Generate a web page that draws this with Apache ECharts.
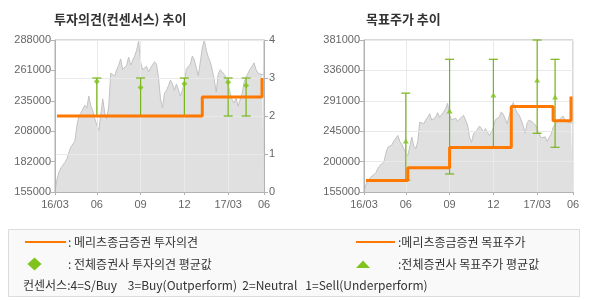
<!DOCTYPE html>
<html><head><meta charset="utf-8">
<script src="https://cdn.jsdelivr.net/npm/echarts@6/dist/echarts.min.js"></script>
<style>html,body{margin:0;padding:0;background:#fff}#c{width:590px;height:300px}</style>
</head><body><div id="c"></div>
<script>
// ---- data ----
const periodKeys = ['2016-03','2016-06','2016-09','2016-12','2017-03','2017-06'];
const periodLabels = ['16/03','06','09','12','17/03','06'];
const samplesPerPeriod = [21,22,22,22,18];

const price = [
 156000,166000,172500,176000,178500,181000,184000,190000,194500,197000,
 199500,213000,221500,224000,225000,231000,228500,239000,230000,226000,
 219000,213500,209000,222500,236500,224000,219000,230000,259000,260000,
 256500,262000,266000,271500,262000,262000,266000,273000,266000,267000,
 274000,279000,287000,269000,262000,263500,265000,260000,263500,265000,
 269000,267000,255000,236500,228500,241500,244000,248000,253000,249500,
 244000,249500,248500,239000,244000,251000,262500,263500,267000,274000,
 270500,269000,256500,255000,281000,288000,279000,273000,269000,262000,
 253000,242500,258000,262000,260000,258000,255000,249500,241500,235500,
 233000,237000,230000,235500,241000,251000,255500,259000,262500,265000,
 268000,262000,259000,258000,257500,258000
];

// 메리츠종금증권 투자의견 (change points)
const opinionDates = ['2016-03·1','2016-12·9','2017-03·17'];
const opinionValues = [2, 2.5, 3];

// 전체증권사 투자의견 평균값 (range + mean)
const consDates = ['2016-06','2016-09','2016-12','2017-03','2017-03·9'];
const consLow  = [2, 2, 2, 2, 2];
const consHigh = [3, 3, 3, 3, 3];
const consMean = [2.91, 2.75, 2.85, 2.89, 2.8];

// 메리츠종금증권 목표주가 (change points)
const targetDates = ['2016-03·1','2016-06·1','2016-09','2016-12·9','2017-03·8','2017-03·17'];
const targetValues = [172000, 191000, 221000, 282000, 261000, 297000];

// 전체증권사 목표주가 평균값
const tpLow  = [172400, 181800, 221500, 242300, 221500];
const tpHigh = [302000, 352300, 352300, 381000, 352300];
const tpMean = [230800, 275400, 299200, 321500, 296300];

const leftTicks  = ['155000','182000','208000','235000','261000','288000'];
const rightTicks = ['155000','200000','245000','291000','336000','381000'];
const opinionTicks = ['0','1','2','3','4'];

// ---- build categories ----
const categories = [];
periodKeys.slice(0, -1).forEach((k, p) => {
  for (let i = 0; i < samplesPerPeriod[p]; i++) categories.push(i === 0 ? k : k + '·' + i);
});
categories.push(periodKeys[periodKeys.length - 1]);
const labelOf = {};
periodKeys.forEach((k, i) => labelOf[k] = periodLabels[i]);
const isTick = (idx, val) => val.indexOf('·') < 0;

const ORANGE = '#ff7800', GREEN = '#77b51a', GREEN2 = '#7fc31c';
const AXC = '#b3b3b3', GRIDC = '#e9e9e9', LAB = '#666';
const FONT = 'Liberation Sans';

function xAxisFor(gi) {
  return {
    type: 'category', gridIndex: gi, data: categories, boundaryGap: false, z: 3,
    axisLine: {lineStyle: {color: AXC}},
    axisTick: {interval: isTick, length: 3, lineStyle: {color: AXC}},
    axisLabel: {interval: isTick, formatter: v => labelOf[v] || '', color: LAB, fontSize: 11, fontFamily: FONT, margin: 7},
    splitLine: {show: true, interval: isTick, lineStyle: {color: GRIDC}}
  };
}
function labelAxis(gi, ticks, split) {
  return {
    type: 'value', gridIndex: gi, min: 0, max: ticks.length - 1, interval: 1, position: 'left', z: 3,
    axisLine: {show: true, lineStyle: {color: AXC}},
    axisTick: {show: true, length: 4, lineStyle: {color: AXC}},
    axisLabel: {formatter: v => ticks[v], color: LAB, fontSize: 11, fontFamily: FONT, margin: 4},
    splitLine: {show: split, lineStyle: {color: GRIDC}}
  };
}
function hiddenAxis(gi, min, max) {
  return {type: 'value', gridIndex: gi, min: min, max: max, show: false, splitLine: {show: false}};
}
function errorBars(xi, yi, dates, low, high) {
  return {
    type: 'custom', xAxisIndex: xi, yAxisIndex: yi, z: 5,
    data: dates.map((d, i) => [d, low[i], high[i]]),
    renderItem: (params, api) => {
      const a = api.coord([api.value(0), api.value(1)]);
      const b = api.coord([api.value(0), api.value(2)]);
      const w = 4.5, st = {stroke: GREEN, lineWidth: 1.2};
      return {type: 'group', children: [
        {type: 'line', shape: {x1: a[0], y1: a[1], x2: b[0], y2: b[1]}, style: st},
        {type: 'line', shape: {x1: a[0]-w, y1: a[1], x2: a[0]+w, y2: a[1]}, style: st},
        {type: 'line', shape: {x1: b[0]-w, y1: b[1], x2: b[0]+w, y2: b[1]}, style: st}
      ]};
    }
  };
}
function priceArea(xi, yi) {
  return {
    type: 'line', xAxisIndex: xi, yAxisIndex: yi, data: price, showSymbol: false, z: 1,
    lineStyle: {color: '#c2c2c2', width: 1}, areaStyle: {color: '#e0e0e0', opacity: 1, origin: 'start'},
    silent: true, animation: false
  };
}

const chart = echarts.init(document.getElementById('c'), null, {renderer: 'canvas'});
chart.setOption({
  animation: false,
  backgroundColor: '#fff',
  title: [
    {text: '투자의견(컨센서스) 추이', left: 54, top: 13, padding: 0,
     textStyle: {fontSize: 13, fontWeight: 'bold', color: '#333', fontFamily: 'Noto Sans CJK KR'}},
    {text: '목표주가 추이', left: 366, top: 13, padding: 0,
     textStyle: {fontSize: 13, fontWeight: 'bold', color: '#333', fontFamily: 'Noto Sans CJK KR'}}
  ],
  grid: [
    {left: 55, right: 326, top: 40, bottom: 108, show: true, borderColor: AXC, borderWidth: 1, backgroundColor: 'transparent'},
    {left: 364, right: 17, top: 40, bottom: 108, show: true, borderColor: AXC, borderWidth: 1, backgroundColor: 'transparent'}
  ],
  xAxis: [xAxisFor(0), xAxisFor(1)],
  yAxis: [
    labelAxis(0, leftTicks, false),
    hiddenAxis(0, 155000, 288000),
    {
      type: 'value', gridIndex: 0, min: 0, max: 4, interval: 1, position: 'right', z: 3,
      axisLine: {show: true, lineStyle: {color: AXC}},
      axisTick: {show: true, length: 4, lineStyle: {color: AXC}},
      axisLabel: {formatter: v => opinionTicks[v], color: LAB, fontSize: 11, fontFamily: FONT, margin: 5},
      splitLine: {show: true, lineStyle: {color: GRIDC}}
    },
    labelAxis(1, rightTicks, true),
    hiddenAxis(1, 155000, 381000)
  ],
  series: [
    priceArea(0, 1),
    {type: 'line', xAxisIndex: 0, yAxisIndex: 2, step: 'end', z: 6, showSymbol: false,
     data: opinionDates.map((d, i) => [d, opinionValues[i]]), lineStyle: {color: ORANGE, width: 3}},
    errorBars(0, 2, consDates, consLow, consHigh),
    {type: 'scatter', xAxisIndex: 0, yAxisIndex: 2, z: 7, symbol: 'diamond', symbolSize: 6,
     data: consDates.map((d, i) => [d, consMean[i]]), itemStyle: {color: GREEN2}},

    priceArea(1, 4),
    {type: 'line', xAxisIndex: 1, yAxisIndex: 4, step: 'end', z: 6, showSymbol: false,
     data: targetDates.map((d, i) => [d, targetValues[i]]), lineStyle: {color: ORANGE, width: 3}},
    errorBars(1, 4, consDates, tpLow, tpHigh),
    {type: 'scatter', xAxisIndex: 1, yAxisIndex: 4, z: 7, symbol: 'triangle', symbolSize: [6, 5],
     data: consDates.map((d, i) => [d, tpMean[i]]), itemStyle: {color: GREEN2}}
  ],
  graphic: [
    {type: 'rect', shape: {x: 8.5, y: 229.5, width: 571, height: 67}, style: {fill: '#f9f9f9', stroke: '#dcdcdc', lineWidth: 1}},
    {type: 'line', shape: {x1: 25, y1: 242, x2: 66, y2: 242}, style: {stroke: ORANGE, lineWidth: 2}},
    {type: 'text', x: 68, y: 242, style: {text: ': 메리츠종금증권 투자의견', font: '12px "Noto Sans CJK KR"', fill: '#333', verticalAlign: 'middle'}},
    {type: 'line', shape: {x1: 356, y1: 242, x2: 395, y2: 242}, style: {stroke: ORANGE, lineWidth: 2}},
    {type: 'text', x: 398, y: 242, style: {text: ':메리츠종금증권 목표주가', font: '12px "Noto Sans CJK KR"', fill: '#333', verticalAlign: 'middle'}},
    {type: 'polygon', shape: {points: [[34.5, 257.5], [41.5, 264], [34.5, 270.5], [27.5, 264]]}, style: {fill: GREEN2}},
    {type: 'text', x: 68, y: 264, style: {text: ': 전체증권사 투자의견 평균값', font: '12px "Noto Sans CJK KR"', fill: '#333', verticalAlign: 'middle'}},
    {type: 'polygon', shape: {points: [[363, 260.5], [370, 268], [356, 268]]}, style: {fill: GREEN2}},
    {type: 'text', x: 398, y: 264, style: {text: ':전체증권사 목표주가 평균값', font: '12px "Noto Sans CJK KR"', fill: '#333', verticalAlign: 'middle'}},
    {type: 'text', x: 23, y: 285, style: {text: '컨센서스:4=S/Buy    3=Buy(Outperform)  2=Neutral   1=Sell(Underperform)', font: '12px "Noto Sans CJK KR"', fill: '#333', verticalAlign: 'middle'}}
  ]
});
</script></body></html>
